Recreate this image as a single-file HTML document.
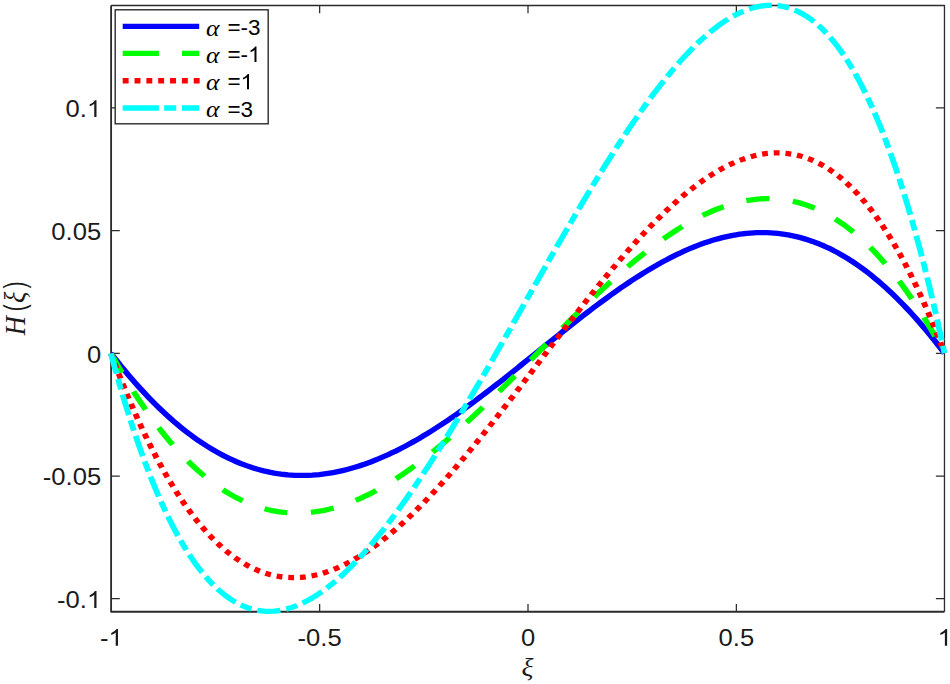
<!DOCTYPE html>
<html><head><meta charset="utf-8"><title>H(xi) plot</title><style>
html,body{margin:0;padding:0;background:#fff;width:950px;height:684px;overflow:hidden}
svg{display:block}
</style></head><body>
<svg width="950" height="684" viewBox="0 0 950 684">
<rect width="950" height="684" fill="#fff"/>
<path d="M111.1,5.5 L944.47,5.5 L944.47,611.75" fill="none" stroke="#2b2b2b" stroke-width="1.3" stroke-linejoin="round"/>
<path d="M111.1,5.5 L111.1,611.75 L944.47,611.75" fill="none" stroke="#2b2b2b" stroke-width="1.85" stroke-linejoin="round"/>
<path d="M319.65,611.75 L319.65,603.95 M319.65,5.5 L319.65,13.3 M528.00,611.75 L528.00,603.95 M528.00,5.5 L528.00,13.3 M736.36,611.75 L736.36,603.95 M736.36,5.5 L736.36,13.3 M111.1,107.80 L119.8,107.80 M944.47,107.80 L935.87,107.80 M111.1,230.50 L119.8,230.50 M944.47,230.50 L935.87,230.50 M111.1,353.25 L119.8,353.25 M944.47,353.25 L935.87,353.25 M111.1,476.00 L119.8,476.00 M944.47,476.00 L935.87,476.00 M111.1,598.70 L119.8,598.70 M944.47,598.70 L935.87,598.70" fill="none" stroke="#2b2b2b" stroke-width="1.25"/>
<g transform="scale(1.09,1)" fill="none" stroke-width="5.33" stroke-linejoin="round">
<path d="M101.74,353.30 L104.93,357.77 L108.12,362.16 L111.30,366.47 L114.49,370.70 L117.68,374.84 L120.86,378.90 L124.05,382.88 L127.24,386.77 L130.42,390.58 L133.61,394.31 L136.80,397.95 L139.98,401.51 L143.17,404.98 L146.35,408.37 L149.54,411.67 L152.73,414.89 L155.91,418.02 L159.10,421.07 L162.29,424.04 L165.47,426.92 L168.66,429.71 L171.85,432.42 L175.03,435.05 L178.22,437.59 L181.41,440.04 L184.59,442.41 L187.78,444.70 L190.97,446.90 L194.15,449.02 L197.34,451.06 L200.53,453.01 L203.71,454.87 L206.90,456.66 L210.09,458.36 L213.27,459.97 L216.46,461.51 L219.65,462.96 L222.83,464.33 L226.02,465.62 L229.20,466.83 L232.39,467.95 L235.58,469.00 L238.76,469.96 L241.95,470.85 L245.14,471.65 L248.32,472.38 L251.51,473.03 L254.70,473.60 L257.88,474.09 L261.07,474.50 L264.26,474.84 L267.44,475.10 L270.63,475.29 L273.82,475.40 L277.00,475.44 L280.19,475.41 L283.38,475.30 L286.56,475.12 L289.75,474.86 L292.94,474.54 L296.12,474.14 L299.31,473.68 L302.50,473.15 L305.68,472.55 L308.87,471.88 L312.06,471.15 L315.24,470.35 L318.43,469.48 L321.61,468.55 L324.80,467.56 L327.99,466.50 L331.17,465.39 L334.36,464.21 L337.55,462.97 L340.73,461.68 L343.92,460.32 L347.11,458.91 L350.29,457.44 L353.48,455.92 L356.67,454.34 L359.85,452.72 L363.04,451.03 L366.23,449.30 L369.41,447.52 L372.60,445.69 L375.79,443.81 L378.97,441.88 L382.16,439.91 L385.35,437.89 L388.53,435.83 L391.72,433.73 L394.91,431.59 L398.09,429.40 L401.28,427.18 L404.46,424.92 L407.65,422.63 L410.84,420.29 L414.02,417.93 L417.21,415.53 L420.40,413.10 L423.58,410.64 L426.77,408.15 L429.96,405.63 L433.14,403.08 L436.33,400.51 L439.52,397.92 L442.70,395.30 L445.89,392.66 L449.08,390.00 L452.26,387.32 L455.45,384.63 L458.64,381.92 L461.82,379.19 L465.01,376.45 L468.20,373.70 L471.38,370.93 L474.57,368.16 L477.76,365.38 L480.94,362.59 L484.13,359.80 L487.31,357.00 L490.50,354.20 L493.69,351.40 L496.87,348.60 L500.06,345.80 L503.25,343.01 L506.43,340.21 L509.62,337.43 L512.81,334.65 L515.99,331.88 L519.18,329.12 L522.37,326.37 L525.55,323.63 L528.74,320.91 L531.93,318.21 L535.11,315.52 L538.30,312.84 L541.49,310.19 L544.67,307.56 L547.86,304.96 L551.05,302.37 L554.23,299.82 L557.42,297.29 L560.61,294.78 L563.79,292.31 L566.98,289.87 L570.17,287.46 L573.35,285.09 L576.54,282.75 L579.72,280.44 L582.91,278.18 L586.10,275.95 L589.28,273.77 L592.47,271.62 L595.66,269.52 L598.84,267.47 L602.03,265.46 L605.22,263.49 L608.40,261.58 L611.59,259.72 L614.78,257.90 L617.96,256.14 L621.15,254.44 L624.34,252.78 L627.52,251.19 L630.71,249.65 L633.90,248.17 L637.08,246.75 L640.27,245.39 L643.46,244.09 L646.64,242.86 L649.83,241.69 L653.02,240.58 L656.20,239.55 L659.39,238.58 L662.57,237.68 L665.76,236.84 L668.95,236.08 L672.13,235.39 L675.32,234.78 L678.51,234.24 L681.69,233.77 L684.88,233.38 L688.07,233.06 L691.25,232.83 L694.44,232.67 L697.63,232.59 L700.81,232.59 L704.00,232.67 L707.19,232.83 L710.37,233.08 L713.56,233.41 L716.75,233.82 L719.93,234.32 L723.12,234.90 L726.31,235.57 L729.49,236.32 L732.68,237.16 L735.87,238.09 L739.05,239.11 L742.24,240.21 L745.43,241.40 L748.61,242.69 L751.80,244.06 L754.98,245.52 L758.17,247.07 L761.36,248.72 L764.54,250.45 L767.73,252.28 L770.92,254.19 L774.10,256.20 L777.29,258.30 L780.48,260.49 L783.66,262.77 L786.85,265.15 L790.04,267.61 L793.22,270.17 L796.41,272.82 L799.60,275.56 L802.78,278.39 L805.97,281.31 L809.16,284.32 L812.34,287.42 L815.53,290.61 L818.72,293.88 L821.90,297.25 L825.09,300.71 L828.28,304.25 L831.46,307.88 L834.65,311.59 L837.83,315.39 L841.02,319.28 L844.21,323.25 L847.39,327.30 L850.58,331.44 L853.77,335.65 L856.95,339.95 L860.14,344.32 L863.33,348.77 L866.51,353.30" stroke="#0000ff"/>
<path d="M101.74,353.30 L104.93,359.54 L108.12,365.64 L111.30,371.61 L114.49,377.45 L117.68,383.16 L120.86,388.74 L124.05,394.18 L127.24,399.50 L130.42,404.68 L133.61,409.74 L136.80,414.66 L139.98,419.46 L143.17,424.13 L146.35,428.67 L149.54,433.08 L152.73,437.37 L155.91,441.53 L159.10,445.56 L162.29,449.47 L165.47,453.26 L168.66,456.92 L171.85,460.46 L175.03,463.87 L178.22,467.17 L181.41,470.34 L184.59,473.39 L187.78,476.32 L190.97,479.13 L194.15,481.83 L197.34,484.41 L200.53,486.86 L203.71,489.21 L206.90,491.44 L210.09,493.55 L213.27,495.55 L216.46,497.44 L219.65,499.21 L222.83,500.87 L226.02,502.43 L229.20,503.87 L232.39,505.20 L235.58,506.43 L238.76,507.55 L241.95,508.56 L245.14,509.47 L248.32,510.28 L251.51,510.98 L254.70,511.58 L257.88,512.08 L261.07,512.47 L264.26,512.77 L267.44,512.97 L270.63,513.08 L273.82,513.08 L277.00,513.00 L280.19,512.82 L283.38,512.54 L286.56,512.18 L289.75,511.72 L292.94,511.17 L296.12,510.54 L299.31,509.82 L302.50,509.01 L305.68,508.12 L308.87,507.14 L312.06,506.08 L315.24,504.94 L318.43,503.72 L321.61,502.42 L324.80,501.04 L327.99,499.59 L331.17,498.06 L334.36,496.46 L337.55,494.78 L340.73,493.04 L343.92,491.22 L347.11,489.34 L350.29,487.38 L353.48,485.36 L356.67,483.28 L359.85,481.13 L363.04,478.92 L366.23,476.65 L369.41,474.32 L372.60,471.93 L375.79,469.49 L378.97,466.99 L382.16,464.43 L385.35,461.83 L388.53,459.17 L391.72,456.46 L394.91,453.70 L398.09,450.90 L401.28,448.05 L404.46,445.16 L407.65,442.23 L410.84,439.25 L414.02,436.24 L417.21,433.18 L420.40,430.09 L423.58,426.97 L426.77,423.81 L429.96,420.62 L433.14,417.40 L436.33,414.15 L439.52,410.87 L442.70,407.57 L445.89,404.24 L449.08,400.89 L452.26,397.52 L455.45,394.12 L458.64,390.71 L461.82,387.29 L465.01,383.84 L468.20,380.39 L471.38,376.92 L474.57,373.44 L477.76,369.96 L480.94,366.46 L484.13,362.96 L487.31,359.46 L490.50,355.95 L493.69,352.44 L496.87,348.93 L500.06,345.43 L503.25,341.93 L506.43,338.43 L509.62,334.94 L512.81,331.46 L515.99,327.99 L519.18,324.54 L522.37,321.09 L525.55,317.66 L528.74,314.25 L531.93,310.85 L535.11,307.48 L538.30,304.13 L541.49,300.80 L544.67,297.49 L547.86,294.21 L551.05,290.96 L554.23,287.74 L557.42,284.55 L560.61,281.40 L563.79,278.27 L566.98,275.19 L570.17,272.14 L573.35,269.13 L576.54,266.16 L579.72,263.23 L582.91,260.35 L586.10,257.51 L589.28,254.72 L592.47,251.98 L595.66,249.29 L598.84,246.65 L602.03,244.07 L605.22,241.54 L608.40,239.06 L611.59,236.65 L614.78,234.29 L617.96,232.00 L621.15,229.77 L624.34,227.60 L627.52,225.50 L630.71,223.46 L633.90,221.50 L637.08,219.61 L640.27,217.78 L643.46,216.03 L646.64,214.36 L649.83,212.76 L653.02,211.24 L656.20,209.80 L659.39,208.44 L662.57,207.16 L665.76,205.97 L668.95,204.86 L672.13,203.84 L675.32,202.90 L678.51,202.06 L681.69,201.30 L684.88,200.64 L688.07,200.07 L691.25,199.60 L694.44,199.22 L697.63,198.94 L700.81,198.76 L704.00,198.68 L707.19,198.70 L710.37,198.82 L713.56,199.05 L716.75,199.38 L719.93,199.82 L723.12,200.37 L726.31,201.02 L729.49,201.79 L732.68,202.66 L735.87,203.65 L739.05,204.76 L742.24,205.98 L745.43,207.31 L748.61,208.76 L751.80,210.33 L754.98,212.02 L758.17,213.83 L761.36,215.76 L764.54,217.81 L767.73,219.99 L770.92,222.29 L774.10,224.72 L777.29,227.27 L780.48,229.95 L783.66,232.76 L786.85,235.69 L790.04,238.76 L793.22,241.96 L796.41,245.29 L799.60,248.75 L802.78,252.35 L805.97,256.08 L809.16,259.94 L812.34,263.94 L815.53,268.08 L818.72,272.36 L821.90,276.77 L825.09,281.32 L828.28,286.01 L831.46,290.83 L834.65,295.80 L837.83,300.91 L841.02,306.16 L844.21,311.55 L847.39,317.09 L850.58,322.76 L853.77,328.58 L856.95,334.55 L860.14,340.65 L863.33,346.90 L866.51,353.30" stroke="#00ff00" stroke-dasharray="21.3 21.654" stroke-dashoffset="-0.508"/>
<path d="M101.74,353.30 L104.93,362.57 L108.12,371.61 L111.30,380.43 L114.49,389.03 L117.68,397.41 L120.86,405.57 L124.05,413.51 L127.24,421.25 L130.42,428.77 L133.61,436.07 L136.80,443.18 L139.98,450.07 L143.17,456.76 L146.35,463.25 L149.54,469.54 L152.73,475.62 L155.91,481.51 L159.10,487.21 L162.29,492.71 L165.47,498.01 L168.66,503.13 L171.85,508.06 L175.03,512.81 L178.22,517.37 L181.41,521.74 L184.59,525.94 L187.78,529.95 L190.97,533.79 L194.15,537.46 L197.34,540.95 L200.53,544.27 L203.71,547.41 L206.90,550.40 L210.09,553.21 L213.27,555.86 L216.46,558.35 L219.65,560.68 L222.83,562.85 L226.02,564.86 L229.20,566.71 L232.39,568.42 L235.58,569.97 L238.76,571.37 L241.95,572.63 L245.14,573.74 L248.32,574.71 L251.51,575.53 L254.70,576.21 L257.88,576.76 L261.07,577.17 L264.26,577.44 L267.44,577.58 L270.63,577.59 L273.82,577.48 L277.00,577.23 L280.19,576.86 L283.38,576.36 L286.56,575.75 L289.75,575.01 L292.94,574.16 L296.12,573.19 L299.31,572.11 L302.50,570.91 L305.68,569.60 L308.87,568.19 L312.06,566.66 L315.24,565.04 L318.43,563.31 L321.61,561.47 L324.80,559.54 L327.99,557.51 L331.17,555.39 L334.36,553.17 L337.55,550.86 L340.73,548.46 L343.92,545.97 L347.11,543.39 L350.29,540.73 L353.48,537.99 L356.67,535.17 L359.85,532.26 L363.04,529.28 L366.23,526.23 L369.41,523.10 L372.60,519.90 L375.79,516.62 L378.97,513.29 L382.16,509.88 L385.35,506.41 L388.53,502.88 L391.72,499.29 L394.91,495.63 L398.09,491.92 L401.28,488.16 L404.46,484.34 L407.65,480.47 L410.84,476.56 L414.02,472.59 L417.21,468.58 L420.40,464.52 L423.58,460.42 L426.77,456.28 L429.96,452.11 L433.14,447.89 L436.33,443.64 L439.52,439.36 L442.70,435.05 L445.89,430.70 L449.08,426.33 L452.26,421.94 L455.45,417.52 L458.64,413.07 L461.82,408.61 L465.01,404.13 L468.20,399.63 L471.38,395.12 L474.57,390.60 L477.76,386.06 L480.94,381.52 L484.13,376.97 L487.31,372.41 L490.50,367.85 L493.69,363.29 L496.87,358.73 L500.06,354.17 L503.25,349.61 L506.43,345.06 L509.62,340.52 L512.81,335.98 L515.99,331.46 L519.18,326.95 L522.37,322.46 L525.55,317.98 L528.74,313.53 L531.93,309.09 L535.11,304.68 L538.30,300.29 L541.49,295.92 L544.67,291.59 L547.86,287.28 L551.05,283.01 L554.23,278.77 L557.42,274.57 L560.61,270.40 L563.79,266.27 L566.98,262.19 L570.17,258.15 L573.35,254.15 L576.54,250.20 L579.72,246.30 L582.91,242.46 L586.10,238.66 L589.28,234.92 L592.47,231.24 L595.66,227.61 L598.84,224.05 L602.03,220.54 L605.22,217.11 L608.40,213.74 L611.59,210.43 L614.78,207.20 L617.96,204.04 L621.15,200.96 L624.34,197.95 L627.52,195.02 L630.71,192.17 L633.90,189.40 L637.08,186.72 L640.27,184.12 L643.46,181.61 L646.64,179.19 L649.83,176.87 L653.02,174.64 L656.20,172.50 L659.39,170.46 L662.57,168.53 L665.76,166.69 L668.95,164.96 L672.13,163.34 L675.32,161.83 L678.51,160.42 L681.69,159.13 L684.88,157.96 L688.07,156.90 L691.25,155.96 L694.44,155.14 L697.63,154.44 L700.81,153.87 L704.00,153.43 L707.19,153.12 L710.37,152.94 L713.56,152.89 L716.75,152.98 L719.93,153.21 L723.12,153.58 L726.31,154.09 L729.49,154.75 L732.68,155.55 L735.87,156.51 L739.05,157.61 L742.24,158.87 L745.43,160.29 L748.61,161.86 L751.80,163.60 L754.98,165.49 L758.17,167.56 L761.36,169.79 L764.54,172.19 L767.73,174.76 L770.92,177.51 L774.10,180.43 L777.29,183.54 L780.48,186.82 L783.66,190.29 L786.85,193.95 L790.04,197.79 L793.22,201.83 L796.41,206.06 L799.60,210.49 L802.78,215.11 L805.97,219.94 L809.16,224.97 L812.34,230.21 L815.53,235.65 L818.72,241.31 L821.90,247.18 L825.09,253.27 L828.28,259.58 L831.46,266.10 L834.65,272.86 L837.83,279.84 L841.02,287.04 L844.21,294.48 L847.39,302.16 L850.58,310.07 L853.77,318.23 L856.95,326.62 L860.14,335.27 L863.33,344.16 L866.51,353.30" stroke="#ff0000" stroke-dasharray="5.33 5.418" stroke-dashoffset="-0.1"/>
<path d="M101.74,353.30 L104.93,366.08 L108.12,378.47 L111.30,390.47 L114.49,402.08 L117.68,413.31 L120.86,424.17 L124.05,434.65 L127.24,444.78 L130.42,454.55 L133.61,463.97 L136.80,473.04 L139.98,481.78 L143.17,490.17 L146.35,498.24 L149.54,505.99 L152.73,513.41 L155.91,520.52 L159.10,527.32 L162.29,533.82 L165.47,540.02 L168.66,545.93 L171.85,551.55 L175.03,556.88 L178.22,561.93 L181.41,566.71 L184.59,571.22 L187.78,575.46 L190.97,579.44 L194.15,583.16 L197.34,586.64 L200.53,589.86 L203.71,592.84 L206.90,595.58 L210.09,598.09 L213.27,600.37 L216.46,602.42 L219.65,604.24 L222.83,605.85 L226.02,607.24 L229.20,608.42 L232.39,609.40 L235.58,610.17 L238.76,610.74 L241.95,611.12 L245.14,611.31 L248.32,611.31 L251.51,611.12 L254.70,610.75 L257.88,610.20 L261.07,609.48 L264.26,608.59 L267.44,607.54 L270.63,606.32 L273.82,604.93 L277.00,603.39 L280.19,601.70 L283.38,599.86 L286.56,597.87 L289.75,595.73 L292.94,593.45 L296.12,591.04 L299.31,588.49 L302.50,585.80 L305.68,582.99 L308.87,580.05 L312.06,576.99 L315.24,573.81 L318.43,570.51 L321.61,567.09 L324.80,563.56 L327.99,559.92 L331.17,556.18 L334.36,552.33 L337.55,548.38 L340.73,544.33 L343.92,540.18 L347.11,535.94 L350.29,531.61 L353.48,527.19 L356.67,522.69 L359.85,518.10 L363.04,513.42 L366.23,508.67 L369.41,503.85 L372.60,498.95 L375.79,493.97 L378.97,488.93 L382.16,483.82 L385.35,478.65 L388.53,473.41 L391.72,468.11 L394.91,462.76 L398.09,457.35 L401.28,451.88 L404.46,446.37 L407.65,440.80 L410.84,435.19 L414.02,429.53 L417.21,423.83 L420.40,418.09 L423.58,412.31 L426.77,406.50 L429.96,400.65 L433.14,394.76 L436.33,388.85 L439.52,382.91 L442.70,376.95 L445.89,370.96 L449.08,364.94 L452.26,358.91 L455.45,352.86 L458.64,346.78 L461.82,340.68 L465.01,334.57 L468.20,328.45 L471.38,322.32 L474.57,316.19 L477.76,310.06 L480.94,303.92 L484.13,297.78 L487.31,291.65 L490.50,285.52 L493.69,279.40 L496.87,273.28 L500.06,267.18 L503.25,261.09 L506.43,255.01 L509.62,248.96 L512.81,242.92 L515.99,236.90 L519.18,230.91 L522.37,224.94 L525.55,219.00 L528.74,213.09 L531.93,207.21 L535.11,201.36 L538.30,195.55 L541.49,189.78 L544.67,184.05 L547.86,178.37 L551.05,172.73 L554.23,167.13 L557.42,161.59 L560.61,156.10 L563.79,150.66 L566.98,145.28 L570.17,139.96 L573.35,134.70 L576.54,129.50 L579.72,124.37 L582.91,119.31 L586.10,114.32 L589.28,109.40 L592.47,104.56 L595.66,99.80 L598.84,95.12 L602.03,90.53 L605.22,86.02 L608.40,81.60 L611.59,77.27 L614.78,73.04 L617.96,68.91 L621.15,64.87 L624.34,60.94 L627.52,57.12 L630.71,53.40 L633.90,49.80 L637.08,46.31 L640.27,42.94 L643.46,39.69 L646.64,36.57 L649.83,33.57 L653.02,30.71 L656.20,27.98 L659.39,25.38 L662.57,22.93 L665.76,20.62 L668.95,18.45 L672.13,16.44 L675.32,14.58 L678.51,12.88 L681.69,11.35 L684.88,9.97 L688.07,8.77 L691.25,7.74 L694.44,6.88 L697.63,6.21 L700.81,5.72 L704.00,5.41 L707.19,5.30 L710.37,5.39 L713.56,5.68 L716.75,6.17 L719.93,6.87 L723.12,7.78 L726.31,8.91 L729.49,10.27 L732.68,11.85 L735.87,13.66 L739.05,15.70 L742.24,17.99 L745.43,20.53 L748.61,23.31 L751.80,26.35 L754.98,29.65 L758.17,33.21 L761.36,37.05 L764.54,41.15 L767.73,45.55 L770.92,50.22 L774.10,55.19 L777.29,60.46 L780.48,66.02 L783.66,71.90 L786.85,78.09 L790.04,84.60 L793.22,91.43 L796.41,98.60 L799.60,106.11 L802.78,113.95 L805.97,122.15 L809.16,130.71 L812.34,139.62 L815.53,148.91 L818.72,158.57 L821.90,168.61 L825.09,179.05 L828.28,189.88 L831.46,201.11 L834.65,212.75 L837.83,224.81 L841.02,237.29 L844.21,250.20 L847.39,263.55 L850.58,277.35 L853.77,291.60 L856.95,306.32 L860.14,321.50 L863.33,337.16 L866.51,353.30" stroke="#00ffff" stroke-dasharray="21.3 5.484 10.7 5.484" stroke-dashoffset="0.307"/>
</g>
<text transform="translate(111.30,645.70) scale(1.09,1)" font-size="23.5" text-anchor="middle" fill="#1a1a1a" font-family="Liberation Sans">-1</text>
<text transform="translate(319.65,645.70) scale(1.09,1)" font-size="23.5" text-anchor="middle" fill="#1a1a1a" font-family="Liberation Sans">-0.5</text>
<text transform="translate(528.00,645.70) scale(1.09,1)" font-size="23.5" text-anchor="middle" fill="#1a1a1a" font-family="Liberation Sans">0</text>
<text transform="translate(736.36,645.70) scale(1.09,1)" font-size="23.5" text-anchor="middle" fill="#1a1a1a" font-family="Liberation Sans">0.5</text>
<text transform="translate(944.70,645.70) scale(1.09,1)" font-size="23.5" text-anchor="middle" fill="#1a1a1a" font-family="Liberation Sans">1</text>
<text transform="translate(101.20,607.90) scale(1.09,1)" font-size="23.5" text-anchor="end" fill="#1a1a1a" font-family="Liberation Sans">-0.1</text>
<text transform="translate(101.20,485.00) scale(1.09,1)" font-size="23.5" text-anchor="end" fill="#1a1a1a" font-family="Liberation Sans">-0.05</text>
<text transform="translate(101.20,362.85) scale(1.09,1)" font-size="23.5" text-anchor="end" fill="#1a1a1a" font-family="Liberation Sans">0</text>
<text transform="translate(101.20,240.10) scale(1.09,1)" font-size="23.5" text-anchor="end" fill="#1a1a1a" font-family="Liberation Sans">0.05</text>
<text transform="translate(101.20,117.00) scale(1.09,1)" font-size="23.5" text-anchor="end" fill="#1a1a1a" font-family="Liberation Sans">0.1</text>
<text transform="translate(521.50,675.80) scale(1.09,1)" font-size="25.6" text-anchor="start" fill="#1a1a1a" font-family="Liberation Serif" font-style="italic">ξ</text>
<g transform="translate(25.1,336) rotate(-90) scale(1,1.09)" fill="#1a1a1a">
<text x="0.8" y="0" font-size="26.5" font-style="italic" font-family="Liberation Serif">H</text>
<text transform="translate(24.84,0) scale(0.73,1)" font-size="27.9" font-family="Liberation Sans">(</text>
<text x="33.0" y="0" font-size="26.5" font-style="italic" font-family="Liberation Serif">ξ</text>
<text transform="translate(47.7,0) scale(0.73,1)" font-size="27.9" font-family="Liberation Sans">)</text>
</g>
<rect x="115.2" y="9.8" width="153" height="114" fill="#fff" stroke="#2b2b2b" stroke-width="1.4"/>
<path d="M122.7,26.4 L199.2,26.4" stroke="#0000ff" stroke-width="5.33"/>
<path d="M122.7,53.4 L158.9,53.4 M182,53.4 L199.2,53.4" stroke="#00ff00" stroke-width="5.33"/>
<path d="M122.70,80.7 l5.9,0 M134.54,80.7 l5.9,0 M146.38,80.7 l5.9,0 M158.22,80.7 l5.9,0 M170.06,80.7 l5.9,0 M181.90,80.7 l5.9,0 M193.74,80.7 l5.9,0" stroke="#ff0000" stroke-width="5.6"/>
<path d="M122.7,108.0 L158.9,108.0 M164.2,108.0 L176.2,108.0 M182,108.0 L199.2,108.0" stroke="#00ffff" stroke-width="5.33"/>
<text transform="translate(206.00,35.60) scale(1.14,1)" font-size="22.5" text-anchor="start" fill="#000" font-family="Liberation Serif" font-style="italic">α</text>
<text transform="translate(227.50,35.00) scale(1.045,1)" font-size="21.5" text-anchor="start" fill="#000" font-family="Liberation Sans">=-3</text>
<text transform="translate(206.00,62.60) scale(1.14,1)" font-size="22.5" text-anchor="start" fill="#000" font-family="Liberation Serif" font-style="italic">α</text>
<text transform="translate(227.50,62.00) scale(1.045,1)" font-size="21.5" text-anchor="start" fill="#000" font-family="Liberation Sans">=-1</text>
<text transform="translate(206.00,89.90) scale(1.14,1)" font-size="22.5" text-anchor="start" fill="#000" font-family="Liberation Serif" font-style="italic">α</text>
<text transform="translate(227.50,89.30) scale(1.045,1)" font-size="21.5" text-anchor="start" fill="#000" font-family="Liberation Sans">=1</text>
<text transform="translate(206.00,117.20) scale(1.14,1)" font-size="22.5" text-anchor="start" fill="#000" font-family="Liberation Serif" font-style="italic">α</text>
<text transform="translate(227.50,116.60) scale(1.045,1)" font-size="21.5" text-anchor="start" fill="#000" font-family="Liberation Sans">=3</text>
<rect x="109.69" y="628.83" width="12.51" height="18.13" fill="#fff"/>
<path transform="translate(108.44,645.70) scale(0.01251,-0.01147)" fill="#1a1a1a" d="M763 0L583 0L583 1147Q518 1085 412 1023Q306 961 223 930L223 1104Q372 1174 484 1274Q596 1374 643 1466L763 1466Z"/>
<rect x="938.83" y="628.83" width="12.51" height="18.13" fill="#fff"/>
<path transform="translate(937.58,645.70) scale(0.01251,-0.01147)" fill="#1a1a1a" d="M763 0L583 0L583 1147Q518 1085 412 1023Q306 961 223 930L223 1104Q372 1174 484 1274Q596 1374 643 1466L763 1466Z"/>
<rect x="88.20" y="591.03" width="12.51" height="18.13" fill="#fff"/>
<path transform="translate(86.95,607.90) scale(0.01251,-0.01147)" fill="#1a1a1a" d="M763 0L583 0L583 1147Q518 1085 412 1023Q306 961 223 930L223 1104Q372 1174 484 1274Q596 1374 643 1466L763 1466Z"/>
<rect x="88.20" y="100.13" width="12.51" height="18.13" fill="#fff"/>
<path transform="translate(86.95,117.00) scale(0.01251,-0.01147)" fill="#1a1a1a" d="M763 0L583 0L583 1147Q518 1085 412 1023Q306 961 223 930L223 1104Q372 1174 484 1274Q596 1374 643 1466L763 1466Z"/>
<rect x="249.20" y="46.57" width="10.97" height="16.59" fill="#fff"/>
<path transform="translate(248.10,62.00) scale(0.01097,-0.01050)" fill="#000" d="M763 0L583 0L583 1147Q518 1085 412 1023Q306 961 223 930L223 1104Q372 1174 484 1274Q596 1374 643 1466L763 1466Z"/>
<rect x="241.72" y="73.87" width="10.97" height="16.59" fill="#fff"/>
<path transform="translate(240.62,89.30) scale(0.01097,-0.01050)" fill="#000" d="M763 0L583 0L583 1147Q518 1085 412 1023Q306 961 223 930L223 1104Q372 1174 484 1274Q596 1374 643 1466L763 1466Z"/>
</svg>
</body></html>
